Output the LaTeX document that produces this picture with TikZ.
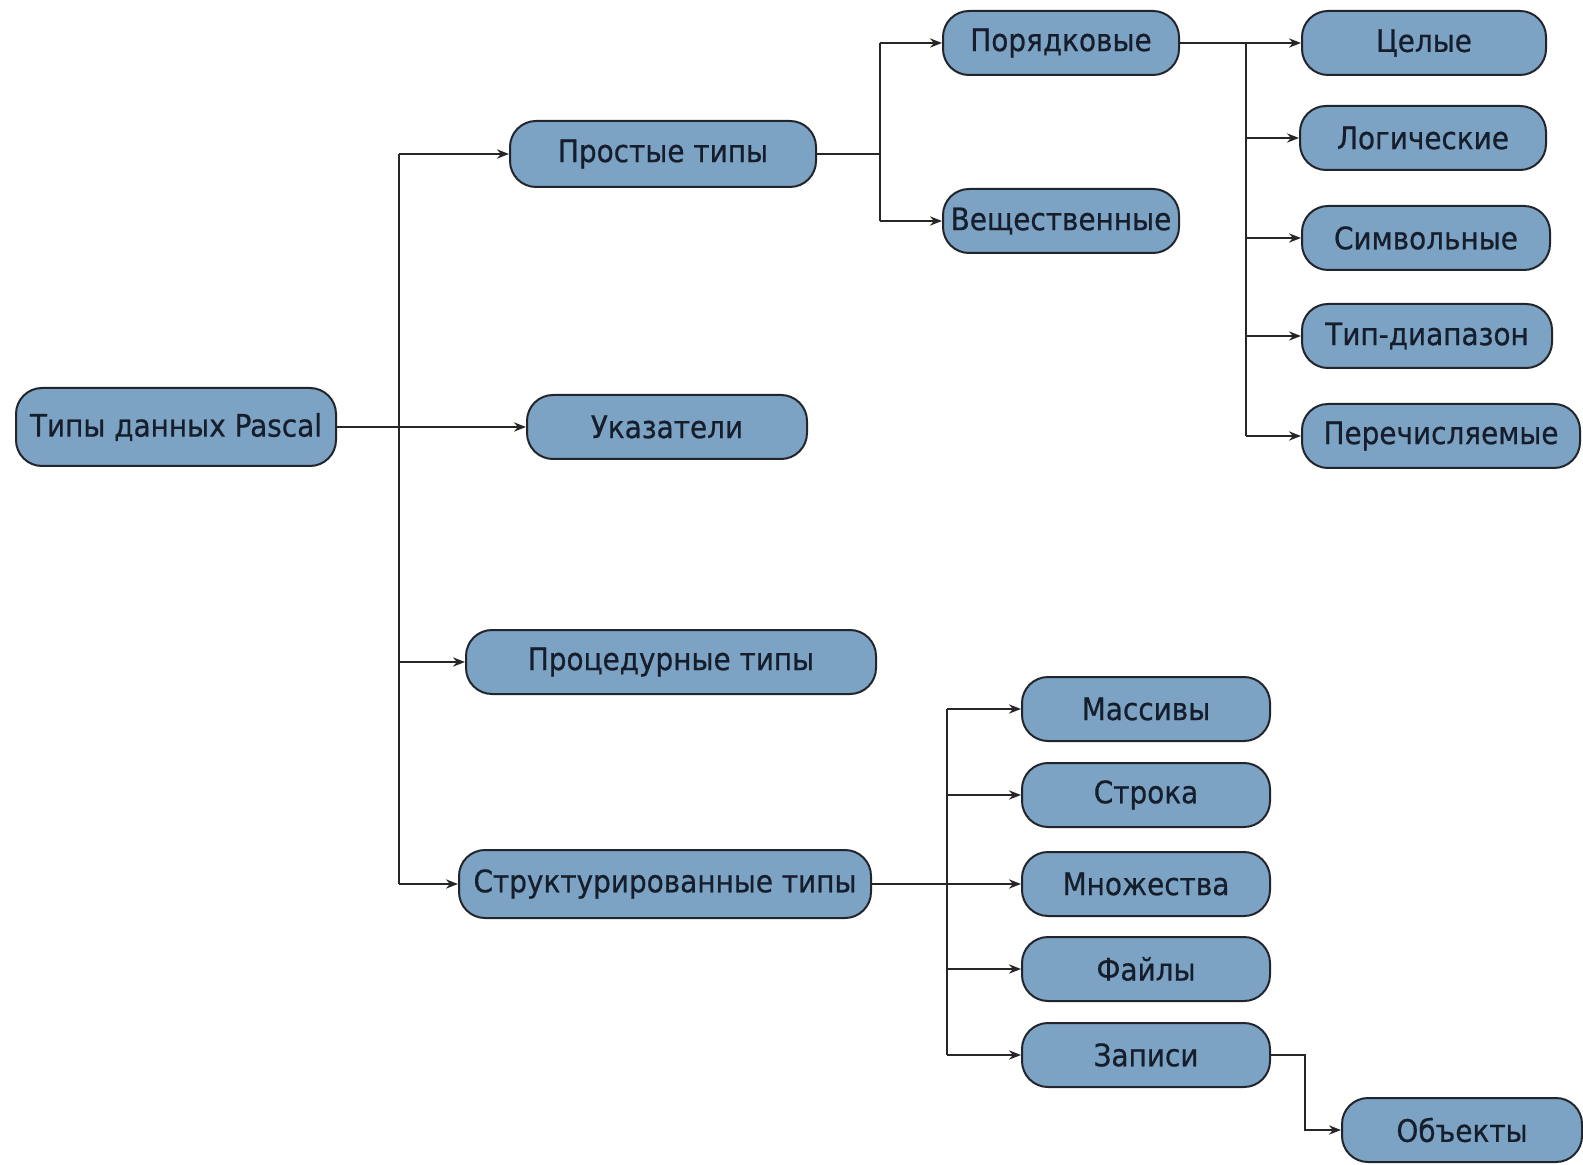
\documentclass[tikz,border=0pt]{standalone}
\usepackage{fontspec}
\setmainfont{DejaVu Sans}[FakeStretch=0.9,FakeBold=0.6]
\usetikzlibrary{arrows.meta}
\definecolor{boxfill}{RGB}{124,162,196}
\definecolor{boxline}{RGB}{34,38,44}
\definecolor{boxtext}{RGB}{22,30,44}

\begin{document}
\begin{tikzpicture}[x=0.5pt,y=-0.5pt]
			\tikzstyle{o}=[rectangle,rounded corners=13pt,draw=boxline,line width=1pt,fill=boxfill,
				text=boxtext,inner sep=2pt,minimum height=32pt,font=\fontsize{15.5pt}{18pt}\selectfont]
			\tikzstyle{e}=[line width=1pt,draw=black!85,-{Stealth[length=6pt,width=4.6pt]}]
			\tikzstyle{l}=[line width=1pt,draw=black!85]
				\useasboundingbox (0,0) rectangle (1583,1165);
				% level 0 and 1
				\node [o,minimum width=160pt,minimum height=39pt] (root) at (176,427) {Типы данных Pascal};
				\node [o,minimum width=153pt,minimum height=33pt] (simple) at (663,154) {Простые типы};
				\node [o,minimum width=140pt] (ptr) at (667,427) {Указатели};
				\node [o,minimum width=205pt] (proc) at (671,662) {Процедурные типы};
				\node [o,minimum width=206pt,minimum height=34pt] (struct) at (665,884) {Структурированные типы};
				% simple types
				\node [o,minimum width=118pt] (ord) at (1061,43) {Порядковые};
				\node [o,minimum width=118pt] (real) at (1061,221) {Вещественные};
				\node [o,minimum width=122pt] (int) at (1424,43) {Целые};
				\node [o,minimum width=123pt] (bool) at (1423,138) {Логические};
				\node [o,minimum width=124pt] (char) at (1426,238) {Символьные};
				\node [o,minimum width=125pt] (range) at (1427,336) {Тип-диапазон};
				\node [o,minimum width=139pt] (enum) at (1441,436) {Перечисляемые};
				% structured types
				\node [o,minimum width=124pt] (arr) at (1146,709) {Массивы};
				\node [o,minimum width=124pt] (str) at (1146,795) {Строка};
				\node [o,minimum width=124pt] (set) at (1146,884) {Множества};
				\node [o,minimum width=124pt] (file) at (1146,969) {Файлы};
				\node [o,minimum width=124pt] (rec) at (1146,1055) {Записи};
				\node [o,minimum width=120pt] (obj) at (1462,1130) {Объекты};
				% trunks
				\coordinate (t1) at (399,0);
				\coordinate (t2) at (880,0);
				\coordinate (t3) at (1246,0);
				\coordinate (t4) at (947,0);
				\coordinate (t5) at (1305,0);
				\draw [e] (root.east) -- (ptr.west);
				\draw [l] (t1 |- simple) -- (t1 |- struct);
				\draw [e] (t1 |- simple) -- (simple.west);
				\draw [e] (t1 |- proc) -- (proc.west);
				\draw [e] (t1 |- struct) -- (struct.west);
				\draw [l] (simple.east) -- (t2 |- simple);
				\draw [l] (t2 |- ord) -- (t2 |- real);
				\draw [e] (t2 |- ord) -- (ord.west);
				\draw [e] (t2 |- real) -- (real.west);
				\draw [e] (ord.east) -- (int.west);
				\draw [l] (t3 |- int) -- (t3 |- enum);
				\draw [e] (t3 |- bool) -- (bool.west);
				\draw [e] (t3 |- char) -- (char.west);
				\draw [e] (t3 |- range) -- (range.west);
				\draw [e] (t3 |- enum) -- (enum.west);
				\draw [e] (struct.east) -- (set.west);
				\draw [l] (t4 |- arr) -- (t4 |- rec);
				\draw [e] (t4 |- arr) -- (arr.west);
				\draw [e] (t4 |- str) -- (str.west);
				\draw [e] (t4 |- file) -- (file.west);
				\draw [e] (t4 |- rec) -- (rec.west);
				\draw [e] (rec.east) -- (t5 |- rec) -- (t5 |- obj) -- (obj.west);
	\end{tikzpicture}
\end{document}
